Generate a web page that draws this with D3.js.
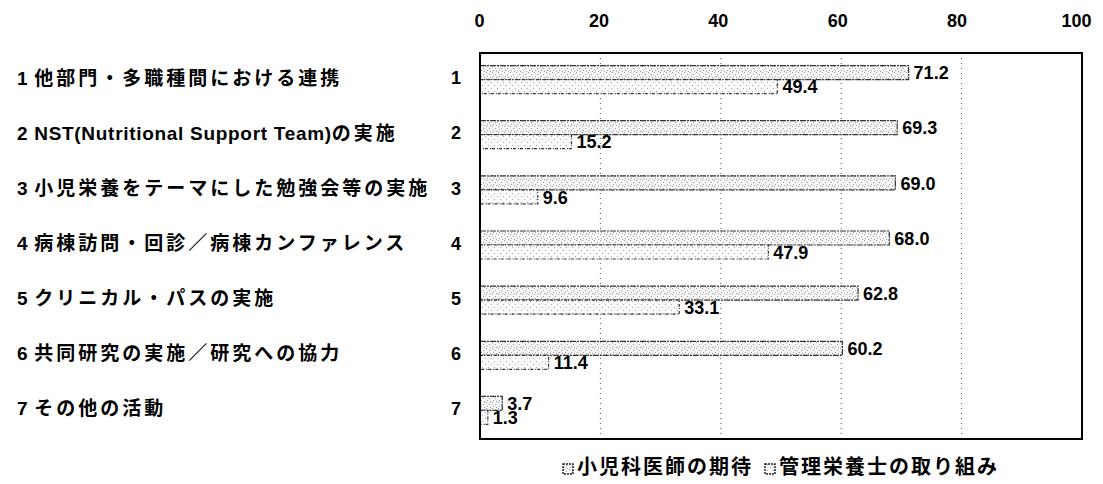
<!DOCTYPE html>
<html><head><meta charset="utf-8">
<script src="https://cdn.jsdelivr.net/npm/d3@7"></script>
<style>
html,body{margin:0;padding:0;background:#fff;}
svg{display:block;}
</style></head>
<body>
<svg id="chart" width="1103" height="484"></svg>
<script>
const categories = ["1 他部門・多職種間における連携","2 NST(Nutritional Support Team)の実施","3 小児栄養をテーマにした勉強会等の実施","4 病棟訪問・回診／病棟カンファレンス","5 クリニカル・パスの実施","6 共同研究の実施／研究への協力","7 その他の活動"];
const categoryNumbers = ["1","2","3","4","5","6","7"];
const seriesNames = ["小児科医師の期待","管理栄養士の取り組み"];
const pediatricianExpectation = [71.2,69.3,69.0,68.0,62.8,60.2,3.7];
const dietitianEfforts = [49.4,15.2,9.6,47.9,33.1,11.4,1.3];
const tickValues = [0,20,40,60,80,100];

(function(){
const svg = d3.select("#chart");
const pL = 480, pR = 1082, pT = 53, pB = 439;
const x = d3.scaleLinear().domain([0,100]).range([pL,pR]);
const y = d3.scaleBand().domain(categoryNumbers).range([pT,pB]);
const pairH = 28;
const sub = d3.scaleBand().domain([0,1]).range([0,pairH]);

const defs = svg.append("defs");
function stipple(id, bg, dots, color){
  const p = defs.append("pattern").attr("id",id).attr("width",6).attr("height",6).attr("patternUnits","userSpaceOnUse");
  p.append("rect").attr("width",6).attr("height",6).attr("fill",bg);
  dots.forEach(d=>p.append("rect").attr("x",d[0]).attr("y",d[1]).attr("width",1).attr("height",1).attr("fill",color));
}
stipple("p0","#f6f6f6",[[0,0],[3,2],[1,4],[4,5]],"#9a9a9a");
stipple("p1","#fafafa",[[2,1],[5,4]],"#a8a8a8");

const cjk = "'Noto Sans CJK JP', 'Noto Sans', sans-serif";
const num = "'Liberation Sans', Arial, sans-serif";
const cjkRe = /([\u3000-\u30ff\u3400-\u9fff\uff00-\uffef]+)/;

function richText(sel, text, cjkSize, latinSize, spacing, latinSpacing){
  text.split(cjkRe).filter(s=>s.length).forEach(part=>{
    const isC = cjkRe.test(part);
    sel.append("tspan").text(part)
      .attr("font-family", isC ? cjk : num)
      .attr("font-size", isC ? cjkSize : latinSize)
      .attr("letter-spacing", isC ? spacing : latinSpacing);
  });
}

svg.append("g").selectAll("line").data(tickValues.filter(v=>v>0&&v<100)).join("line")
  .attr("x1",d=>x(d)).attr("x2",d=>x(d)).attr("y1",pT).attr("y2",pB)
  .attr("stroke","#555").attr("stroke-width",1).attr("stroke-dasharray","1,4");

const axis = d3.axisTop(d3.scaleLinear().domain([0,100]).range([479,1076])).tickValues(tickValues).tickSize(0).tickPadding(0);
const ag = svg.append("g").attr("transform","translate(0,27)").call(axis);
ag.select(".domain").remove();
ag.selectAll("text").attr("font-family",num).attr("font-weight","bold").attr("font-size",18).attr("fill","#000");

const series = [pediatricianExpectation, dietitianEfforts];
series.forEach((vals,si)=>{
  const g = svg.append("g");
  const by = (i)=> y(categoryNumbers[i]) + (y.bandwidth()-pairH)/2 - 1 + sub(si);
  g.selectAll("rect").data(vals).join("rect")
    .attr("x",x(0)).attr("y",(d,i)=>by(i))
    .attr("width",d=>x(d)-x(0)).attr("height",sub.bandwidth())
    .attr("fill",`url(#p${si})`).attr("stroke","#333").attr("stroke-width",1.2)
    .attr("stroke-dasharray", si===0 ? "6,1,2,1" : "3,1,1,2");
  g.selectAll("text").data(vals).join("text")
    .attr("x",d=>x(d)+5).attr("y",(d,i)=>by(i) + sub.bandwidth()/2 + 2)
    .attr("dominant-baseline","middle")
    .attr("font-family",num).attr("font-weight","bold").attr("font-size",18).attr("fill","#000")
    .text(d=>d.toFixed(1));
});

svg.append("rect").attr("x",pL).attr("y",pT).attr("width",pR-pL).attr("height",pB-pT)
  .attr("fill","none").attr("stroke","#000").attr("stroke-width",2);

svg.append("g").selectAll("text").data(categories).join("text")
  .attr("x",17).attr("y",(d,i)=>y(categoryNumbers[i]) + y.bandwidth()/2 - 1)
  .attr("dominant-baseline","middle")
  .attr("font-weight","bold").attr("fill","#000")
  .each(function(d){ richText(d3.select(this), d, 19, 19, 3, 0.7); });
svg.append("g").selectAll("text").data(categoryNumbers).join("text")
  .attr("x",461).attr("y",d=>y(d) + y.bandwidth()/2 - 1)
  .attr("text-anchor","end").attr("dominant-baseline","middle")
  .attr("font-family",num).attr("font-weight","bold").attr("font-size",18).attr("fill","#000")
  .text(d=>d);

const lg = svg.append("g");
let lx = 0;
seriesNames.forEach((n,i)=>{
  const item = lg.append("g").attr("transform",`translate(${lx},0)`);
  item.append("rect").attr("x",0).attr("y",-5).attr("width",10).attr("height",10)
    .attr("fill",`url(#p${i})`).attr("stroke","#222").attr("stroke-width",1.5).attr("stroke-dasharray","2,1");
  const t = item.append("text").attr("x",14).attr("y",0).attr("dominant-baseline","middle")
    .attr("font-family",cjk).attr("font-weight","bold").attr("font-size",20).attr("letter-spacing",2).attr("fill","#000").text(n);
  lx += 14 + t.node().getComputedTextLength() + 12;
});
lg.attr("transform",`translate(${(pL+pR)/2 - (lx-12)/2},469)`);
})();
</script>
</body></html>
